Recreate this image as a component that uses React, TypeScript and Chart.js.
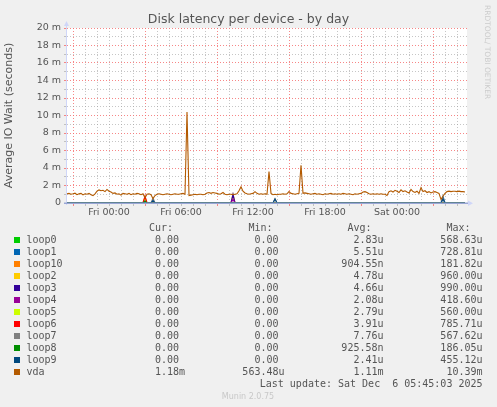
import React, { useEffect, useRef } from "react";
import { Chart, registerables } from "chart.js";

Chart.register(...registerables);

// ---- data ----
const seriesNames = ["loop0", "loop1", "loop10", "loop2", "loop3", "loop4", "loop5", "loop6", "loop7", "loop8", "loop9", "vda"];
const seriesColors = ["#00CC00", "#0066B3", "#FF8000", "#FFCC00", "#330099", "#990099", "#CCFF00", "#FF0000", "#808080", "#008F00", "#00487D", "#B35A00"];
const curValues = ["0.00 ", "0.00 ", "0.00 ", "0.00 ", "0.00 ", "0.00 ", "0.00 ", "0.00 ", "0.00 ", "0.00 ", "0.00 ", "1.18m"];
const minValues = ["0.00 ", "0.00 ", "0.00 ", "0.00 ", "0.00 ", "0.00 ", "0.00 ", "0.00 ", "0.00 ", "0.00 ", "0.00 ", "563.48u"];
const avgValues = ["2.83u", "5.51u", "904.55n", "4.78u", "4.66u", "2.08u", "2.79u", "3.91u", "7.76u", "925.58n", "2.41u", "1.11m"];
const maxValues = ["568.63u", "728.81u", "181.82u", "960.00u", "990.00u", "418.60u", "560.00u", "785.71u", "567.62u", "186.05u", "455.12u", "10.39m"];

// time axis: hours since Thu 00:00, one sample every 10 minutes from Thu 20:30
const startHour = 20.5;
const stepHours = 1 / 6;
const sampleCount = 200;

// vda latency (milliseconds)
const vda = [
  1.05, 1.10, 1.00, 1.05, 1.12, 0.95, 1.05, 1.10, 0.92, 1.05,
  1.00, 1.10, 0.95, 0.85, 1.05, 1.35, 1.50, 1.40, 1.45, 1.30,
  1.55, 1.35, 1.25, 1.10, 1.15, 1.00, 1.05, 0.90, 1.10, 1.05,
  1.00, 1.10, 0.95, 1.05, 1.00, 1.10, 1.05, 0.95, 1.05, 0.60,
  1.00, 1.05, 0.95, 0.50, 0.85, 1.00, 1.05, 1.00, 0.95, 1.00,
  1.05, 1.00, 0.95, 1.00, 1.05, 1.00, 1.00, 1.05, 1.10, 1.00,
  10.39, 0.85, 0.90, 0.95, 1.00, 0.95, 1.00, 1.00, 0.95, 1.00,
  1.15, 1.20, 1.10, 1.20, 1.15, 1.10, 1.00, 1.05, 1.20, 1.00,
  0.95, 1.00, 1.00, 0.95, 1.00, 1.05, 1.40, 1.85, 1.35, 1.15,
  1.05, 1.00, 1.05, 1.10, 1.30, 1.10, 1.00, 1.05, 1.00, 1.05,
  1.00, 3.60, 1.10, 0.95, 1.00, 0.95, 1.00, 1.00, 1.05, 1.00,
  1.05, 1.30, 1.10, 1.05, 1.00, 1.05, 1.10, 4.30, 1.10, 1.15,
  1.10, 1.05, 1.00, 1.05, 1.10, 1.00, 1.05, 1.00, 0.95, 1.05,
  1.00, 1.05, 1.10, 1.00, 1.05, 1.00, 1.05, 1.00, 1.10, 1.05,
  1.00, 1.05, 1.00, 0.95, 1.05, 1.00, 1.05, 1.10, 1.25, 1.30,
  1.20, 1.05, 1.00, 1.05, 1.00, 1.05, 1.00, 1.05, 1.00, 1.00,
  0.85, 1.30, 1.40, 1.25, 1.45, 1.35, 1.20, 1.50, 1.30, 1.40,
  1.25, 1.15, 1.55, 1.30, 1.20, 1.35, 1.10, 1.75, 1.30, 1.40,
  1.20, 1.30, 1.15, 1.25, 1.30, 1.20, 1.10, 0.40, 0.80, 1.10,
  1.30, 1.35, 1.30, 1.35, 1.35, 1.30, 1.35, 1.30, 1.30, 1.25,
];

// loop devices: zero except these samples [sampleIndex, ms]
const loop0Spikes = [[39, 0.57]];
const loop1Spikes = [[39, 0.35], [188, 0.73]];
const loop10Spikes = [[39, 0.18]];
const loop2Spikes = [[83, 0.96]];
const loop3Spikes = [[83, 0.99]];
const loop4Spikes = [[83, 0.42]];
const loop5Spikes = [[39, 0.56]];
const loop6Spikes = [[39, 0.79]];
const loop7Spikes = [[43, 0.57], [104, 0.5], [188, 0.55]];
const loop8Spikes = [[39, 0.19]];
const loop9Spikes = [[43, 0.3], [104, 0.46], [188, 0.45]];

const yTickValues = [0, 2, 4, 6, 8, 10, 12, 14, 16, 18, 20];
const yTickLabels = ["0", "2 m", "4 m", "6 m", "8 m", "10 m", "12 m", "14 m", "16 m", "18 m", "20 m"];
const xTickHours = [24, 30, 36, 42, 48];
const xTickLabels = ["Fri 00:00", "Fri 06:00", "Fri 12:00", "Fri 18:00", "Sat 00:00"];

const titleText = "Disk latency per device - by day";
const yTitleText = "Average IO Wait (seconds)";
const lastUpdateText = "Last update: Sat Dec  6 05:45:03 2025";
const muninText = "Munin 2.0.75";
const rrdText = "RRDTOOL/ TOBI OETIKER";

const W = 497;
const H = 407;
const SANS = "'DejaVu Sans', sans-serif";
const MONO = "'DejaVu Sans Mono', monospace";
const TEXT = "#555555";
const AXIS = "#CFD6F8";
const MAJOR = "rgba(245,105,105,0.8)";
const MINOR = "rgba(160,160,160,0.6)";

function buildLoop(spikes: number[][]) {
  const arr: { x: number; y: number }[] = [];
  for (let i = 0; i < sampleCount; i++) arr.push({ x: startHour + i * stepHours, y: 0 });
  spikes.forEach(([i, v]) => (arr[i].y = v));
  return arr;
}

const loopSpikes = [loop0Spikes, loop1Spikes, loop10Spikes, loop2Spikes, loop3Spikes, loop4Spikes, loop5Spikes, loop6Spikes, loop7Spikes, loop8Spikes, loop9Spikes];

const munPlugin = {
  id: "muninLook",
  beforeDraw(chart: any) {
    const { ctx, chartArea: a } = chart;
    ctx.save();
    ctx.fillStyle = "#F0F0F0";
    ctx.fillRect(0, 0, W, H);
    ctx.fillStyle = "#FFFFFF";
    ctx.fillRect(a.left, a.top, a.right - a.left, a.bottom - a.top);
    ctx.restore();
  },
  beforeDatasetsDraw(chart: any) {
    const { ctx, chartArea: a } = chart;
    ctx.save();
    ctx.strokeStyle = AXIS;
    ctx.fillStyle = AXIS;
    ctx.lineWidth = 1;
    // y axis
    ctx.beginPath();
    ctx.moveTo(a.left - 0.5, a.bottom + 2);
    ctx.lineTo(a.left - 0.5, a.top - 4);
    ctx.stroke();
    ctx.beginPath();
    ctx.moveTo(a.left - 3, a.top - 2);
    ctx.lineTo(a.left + 2, a.top - 2);
    ctx.lineTo(a.left - 0.5, a.top - 7);
    ctx.closePath();
    ctx.fill();
    ctx.restore();
  },
  afterDatasetsDraw(chart: any) {
    const { ctx, chartArea: a } = chart;
    ctx.save();
    // x axis drawn over the zero lines
    ctx.strokeStyle = "#9AA7D6";
    ctx.lineWidth = 1.5;
    ctx.beginPath();
    ctx.moveTo(a.left - 3, a.bottom + 0.25);
    ctx.lineTo(a.right + 1, a.bottom + 0.25);
    ctx.stroke();
    ctx.fillStyle = AXIS;
    ctx.beginPath();
    ctx.moveTo(a.right + 1, a.bottom - 2.5);
    ctx.lineTo(a.right + 1, a.bottom + 3);
    ctx.lineTo(a.right + 6, a.bottom + 0.25);
    ctx.closePath();
    ctx.fill();
    ctx.restore();
  },
  afterDraw(chart: any) {
    const { ctx } = chart;
    ctx.save();
    // title
    ctx.fillStyle = TEXT;
    ctx.font = `12.5px ${SANS}`;
    ctx.textAlign = "center";
    ctx.textBaseline = "middle";
    ctx.fillText(titleText, 248.5, 19.5);

    // rrdtool watermark
    ctx.save();
    ctx.fillStyle = "#CCCCCC";
    ctx.font = `7.5px ${SANS}`;
    ctx.translate(487, 5);
    ctx.rotate(Math.PI / 2);
    ctx.textAlign = "left";
    ctx.textBaseline = "middle";
    ctx.fillText(rrdText, 0, 0);
    ctx.restore();

    // legend table
    ctx.font = `10px ${MONO}`;
    ctx.textBaseline = "middle";
    const cw = ctx.measureText("0").width;
    const cols = [185, 284.5, 383.5, 482.5];
    const heads = ["Cur:", "Min:", "Avg:", "Max:"];
    ctx.fillStyle = TEXT;
    ctx.textAlign = "right";
    heads.forEach((h, k) => ctx.fillText(h, cols[k] - 2 * cw, 228.3));
    const rowY0 = 240.3;
    const rowH = 12.03;
    seriesNames.forEach((name, i) => {
      const y = rowY0 + i * rowH;
      ctx.fillStyle = seriesColors[i];
      ctx.fillRect(14, Math.round(y - 0.8) - 3, 6, 6);
      ctx.fillStyle = TEXT;
      ctx.textAlign = "left";
      ctx.fillText(name, 26.5, y);
      ctx.textAlign = "right";
      ctx.fillText(curValues[i], cols[0], y);
      ctx.fillText(minValues[i], cols[1], y);
      ctx.fillText(avgValues[i], cols[2], y);
      ctx.fillText(maxValues[i], cols[3], y);
    });
    ctx.textAlign = "right";
    ctx.fillText(lastUpdateText, cols[3], 384.3);

    ctx.fillStyle = "#C8C8C8";
    ctx.font = `8px ${SANS}`;
    ctx.textAlign = "center";
    ctx.fillText(muninText, 248, 396.5);
    ctx.restore();
  },
};

export default function App() {
  const ref = useRef<HTMLCanvasElement>(null);
  useEffect(() => {
    const canvas = ref.current!;
    const datasets: any[] = [];
    // vda first so it is drawn on top; loop0 last so it is drawn first
    datasets.push({
      label: "vda",
      data: vda.map((v, i) => ({ x: startHour + i * stepHours, y: v })),
      borderColor: seriesColors[11],
      borderWidth: 1.1,
      pointRadius: 0,
      clip: false,
    });
    for (let k = 10; k >= 0; k--) {
      datasets.push({
        label: seriesNames[k],
        data: buildLoop(loopSpikes[k]),
        borderColor: seriesColors[k],
        borderWidth: 1.2,
        pointRadius: 0,
        clip: false,
      });
    }
    const hourTicks: number[] = [];
    for (let h = 21; h <= 53; h++) hourTicks.push(h);
    const yTicks: number[] = [];
    for (let v = 0; v <= 20; v++) yTicks.push(v);

    const chart = new Chart(canvas, {
      type: "line",
      data: { datasets },
      plugins: [munPlugin],
      options: {
        animation: false,
        responsive: false,
        devicePixelRatio: 1,
        parsing: false as any,
        normalized: true,
        layout: { padding: { left: 0, top: 28, right: 30, bottom: 184 } },
        plugins: { legend: { display: false }, tooltip: { enabled: false }, title: { display: false } },
        elements: { line: { tension: 0 }, point: { radius: 0 } },
        scales: {
          x: {
            type: "linear",
            min: startHour,
            max: startHour + sampleCount * stepHours,
            afterBuildTicks: (s: any) => {
              s.ticks = hourTicks.map((h) => ({ value: h }));
            },
            afterFit: (s: any) => {
              s.height = 20;
            },
            ticks: {
              autoSkip: false,
              maxRotation: 0,
              minRotation: 0,
              padding: 1,
              color: TEXT,
              font: { family: SANS, size: 9.5 },
              callback: (v: any) => {
                const k = xTickHours.indexOf(Number(v));
                return k >= 0 ? xTickLabels[k] : "";
              },
            },
            grid: {
              color: (c: any) => (c.tick && (c.tick.value - 3) % 6 === 0 ? MAJOR : MINOR),
              tickColor: (c: any) => (c.tick && (c.tick.value - 3) % 6 === 0 ? MAJOR : MINOR),
              lineWidth: 1,
              drawTicks: true,
              tickLength: 3,
            },
            border: { display: false, dash: [1, 2] },
          },
          y: {
            type: "linear",
            min: 0,
            max: 20,
            afterBuildTicks: (s: any) => {
              s.ticks = yTicks.map((v) => ({ value: v }));
            },
            afterFit: (s: any) => {
              s.width = 67;
            },
            ticks: {
              autoSkip: false,
              padding: 3,
              color: TEXT,
              font: { family: SANS, size: 9.5 },
              callback: (v: any) => {
                const k = yTickValues.indexOf(Number(v));
                return k >= 0 ? yTickLabels[k] : "";
              },
            },
            grid: {
              color: (c: any) => (c.tick && c.tick.value % 2 === 0 && c.tick.value !== 0 ? MAJOR : MINOR),
              tickColor: (c: any) => (c.tick && c.tick.value % 2 === 0 ? MAJOR : MINOR),
              lineWidth: 1,
              drawTicks: true,
              tickLength: 3,
            },
            border: { display: false, dash: [1, 2] },
            title: {
              display: true,
              text: yTitleText,
              color: TEXT,
              font: { family: SANS, size: 11 },
              padding: { top: 3, bottom: 0 },
            },
          },
        },
      },
    });
    return () => chart.destroy();
  }, []);

  return (
    <div style={{ position: "fixed", left: 0, top: 0, width: W, height: H, background: "#F0F0F0" }}>
      <canvas ref={ref} width={W} height={H} style={{ display: "block", width: W, height: H }} />
    </div>
  );
}
